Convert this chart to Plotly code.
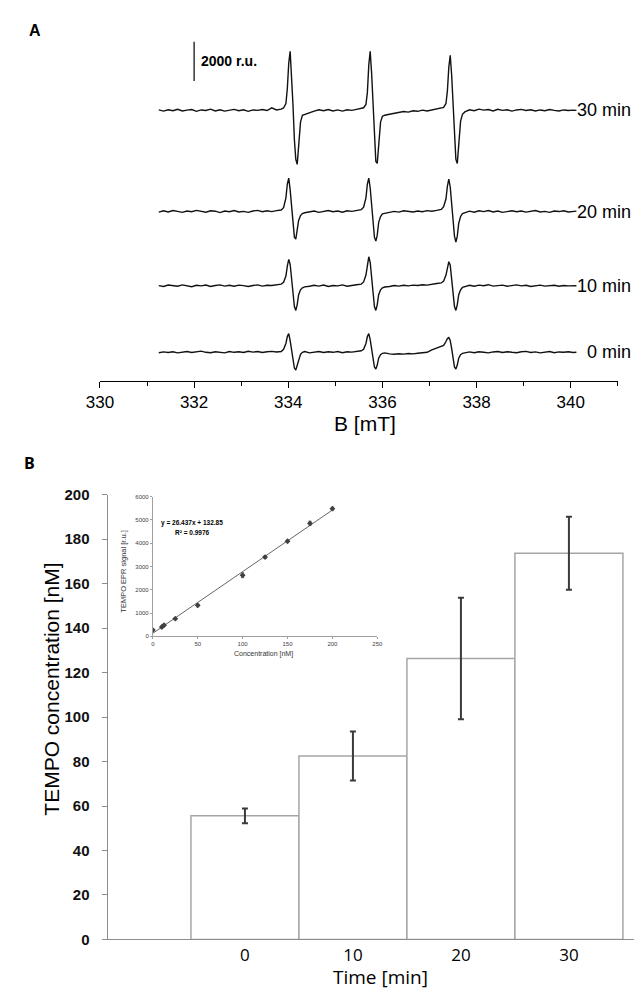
import plotly.graph_objects as go

# ---------------- Panel A: EPR spectra (B in mT, signal in r.u.) ----------------
FIELD_MT = (
    [331.25, 331.35, 331.45, 331.55, 331.65, 331.75, 331.85, 331.95, 332.05, 332.15,
     332.25, 332.35, 332.45, 332.55, 332.65, 332.75, 332.85, 332.95, 333.05, 333.15,
     333.25, 333.35, 333.45, 333.55, 333.65, 333.75, 333.85]
    + [333.90, 333.95, 333.98, 334.01, 334.04, 334.07, 334.10, 334.13, 334.16, 334.19,
       334.22, 334.26, 334.30, 334.35]
    + [334.45, 334.55, 334.65, 334.75, 334.85, 334.95, 335.05, 335.15, 335.25, 335.35,
       335.45, 335.55]
    + [335.60, 335.65, 335.68, 335.71, 335.74, 335.77, 335.80, 335.83, 335.86, 335.89,
       335.92, 335.96, 336.00, 336.05]
    + [336.15, 336.25, 336.35, 336.45, 336.55, 336.65, 336.75, 336.85, 336.95, 337.05,
       337.15, 337.25]
    + [337.30, 337.35, 337.38, 337.41, 337.44, 337.47, 337.50, 337.53, 337.56, 337.59,
       337.62, 337.66, 337.70, 337.75]
    + [337.85, 337.95, 338.05, 338.15, 338.25, 338.35, 338.45, 338.55, 338.65, 338.75,
       338.85, 338.95, 339.05, 339.15, 339.25, 339.35, 339.45, 339.55, 339.65, 339.75,
       339.85, 339.95, 340.05, 340.12]
)

SIGNAL_30MIN = (
    [20, -40, 30, -20, 50, -30, 10, 40, -50, 20, -10, 60, -30, 30, -40, 10, 50, -20, 30, -50,
     20, 0, 40, -10, 130, 20, 60]
    + [120, 350, 1100, 2400, 3000, 1900, 300, -1500, -2500, -2750, -1700, -600, -250, -200]
    + [-100, -40, 30, -20, 40, -30, 20, -40, 30, 0, 50, 80]
    + [130, 300, 900, 2300, 3000, 1900, 300, -1500, -2600, -2700, -1600, -600, -300, -250]
    + [-200, -150, -120, -60, -90, -20, -50, 10, -30, 20, 40, 90]
    + [150, 350, 1000, 2200, 2800, 1800, 300, -1400, -2500, -2700, -1600, -550, -200, -80]
    + [30, -20, 60, 10, 40, -30, 50, 0, 30, -40, 20, 50, -10, 30, -30, 20, -20, 40, 0, -30,
       20, -10, 10, 0]
)

SIGNAL_20MIN = (
    [-30, 40, -20, 50, 10, -40, 30, -10, 60, 0, -30, 40, 20, -50, 30, -10, 50, -20, 10, -40,
     30, 60, -10, 40, 0, 50, 80]
    + [200, 700, 1400, 1700, 1100, 200, -800, -1300, -1400, -1000, -450, -200, -100, -60]
    + [-20, 30, -40, 20, 50, -10, 30, -30, 40, 10, 60, 100]
    + [220, 700, 1400, 1700, 1200, 300, -700, -1300, -1500, -1200, -550, -250, -120, -80]
    + [-40, 10, -30, 40, 0, -20, 30, -10, 50, 20, 60, 110]
    + [250, 650, 1300, 1650, 1250, 400, -600, -1250, -1550, -1250, -600, -250, -100, -50]
    + [20, -30, 40, 0, 50, -20, 30, -40, 10, 40, -10, 30, -30, 20, 50, -20, 10, -40, 30, 0,
       40, -20, 10, 20]
)

SIGNAL_10MIN = (
    [10, -30, 40, 20, -20, 50, 10, -40, 30, 0, 40, -30, 20, 50, -10, 30, -20, 40, 10, -30,
     20, 50, -10, 30, 20, 60, 90]
    + [180, 500, 1000, 1350, 1100, 350, -500, -1050, -1250, -950, -450, -200, -100, -50]
    + [-20, 30, -10, 40, -30, 20, 0, 50, -20, 30, 60, 90]
    + [200, 550, 1100, 1480, 1200, 400, -500, -1050, -1250, -950, -450, -200, -100, -60]
    + [-30, 20, -10, 30, 0, 40, 20, 60, 40, 90, 120, 150]
    + [250, 550, 950, 1230, 1050, 350, -500, -1050, -1250, -950, -450, -200, -80, -30]
    + [30, -20, 40, 10, 60, -10, 30, 40, -20, 20, 50, 0, 30, -30, 20, 40, -10, 10, 30, -20,
       20, 0, -10, 10]
)

SIGNAL_0MIN = (
    [-20, 20, -10, 30, -30, 10, 40, -10, 20, 60, 0, -20, 30, 10, -30, 40, 0, 30, -10, 50,
     10, 40, -10, 30, 50, 20, 40]
    + [150, 450, 800, 950, 600, 50, -500, -800, -900, -650, -300, -100, 0, 40]
    + [-30, 20, 40, -10, 30, 0, 40, -20, 30, 10, 50, 80]
    + [150, 450, 800, 950, 650, 100, -400, -750, -850, -650, -300, -120, -50, -30]
    + [-80, -100, -70, -90, -60, -80, -50, -40, 0, 120, 200, 280]
    + [350, 550, 700, 750, 600, 200, -350, -750, -850, -650, -300, -120, -50, -20]
    + [20, -20, 30, 0, -30, 20, 40, -10, 30, 0, -20, 30, 50, -10, 20, -30, 10, 40, -20, 20,
       0, 30, -10, 0]
)

SPECTRUM_LABELS = ["0 min", "10 min", "20 min", "30 min"]
SPECTRA = [SIGNAL_0MIN, SIGNAL_10MIN, SIGNAL_20MIN, SIGNAL_30MIN]
SCALE_BAR_RU = 2000
B_TICKS = [330, 332, 334, 336, 338, 340]

# ---------------- Panel B: bar chart ----------------
TIME_MIN = [0, 10, 20, 30]
TEMPO_NM = [55.6, 82.5, 126.3, 173.6]
TEMPO_ERR_NM = [3.3, 11.0, 27.3, 16.4]

# ---------------- Inset: calibration ----------------
CAL_CONC_NM = [0, 10, 12.5, 25, 50, 100, 125, 150, 175, 200]
CAL_SIGNAL_RU = [270, 400, 480, 760, 1330, 2620, 3400, 4080, 4850, 5480]
CAL_ERR_RU = [60, 40, 40, 40, 60, 100, 50, 40, 90, 60]
FIT_SLOPE = 26.437
FIT_INTERCEPT = 132.85
FIT_R2 = 0.9976
FIT_X = [0, 200]

# ---------------- layout helpers (pixels -> paper) ----------------
W, H = 641, 993
def fx(px):
    return px / W
def fy(py):
    return 1 - py / H

# vertical stacking of the spectra (layout only)
TRACE_OFFSET = [0, 3380, 7160, 12310]

ARIAL = "Liberation Sans, Arial, sans-serif"
CALIBRI = "Open Sans, Liberation Sans, sans-serif"

fig = go.Figure()

for lab, sig, off in zip(SPECTRUM_LABELS, SPECTRA, TRACE_OFFSET):
    fig.add_trace(go.Scatter(
        x=FIELD_MT, y=[v + off for v in sig], mode="lines",
        line=dict(color="#111111", width=1.4), xaxis="x", yaxis="y",
        showlegend=False, hoverinfo="skip"))

fig.add_trace(go.Bar(
    x=TIME_MIN, y=TEMPO_NM, width=10,
    marker=dict(color="white", line=dict(color="#a6a6a6", width=1.5)),
    error_y=dict(type="data", array=TEMPO_ERR_NM, color="#3a3a3a", thickness=2, width=3),
    xaxis="x2", yaxis="y2", showlegend=False))

fig.add_trace(go.Scatter(
    x=FIT_X, y=[FIT_SLOPE * v + FIT_INTERCEPT for v in FIT_X], mode="lines",
    line=dict(color="#555555", width=0.9), xaxis="x3", yaxis="y3", showlegend=False))
fig.add_trace(go.Scatter(
    x=CAL_CONC_NM, y=CAL_SIGNAL_RU, mode="markers",
    marker=dict(symbol="diamond", size=4.5, color="#404040"),
    error_y=dict(type="data", array=CAL_ERR_RU, color="#404040", thickness=0.8, width=1.5),
    xaxis="x3", yaxis="y3", showlegend=False))

# 2000 r.u. scale bar
fig.add_shape(type="line", xref="x", yref="y", x0=332.0, x1=332.0,
              y0=13800, y1=13800 + SCALE_BAR_RU, line=dict(color="black", width=1.2))

ann = []
ann.append(dict(xref="x", yref="y", x=332.1, y=14800, text=f"{SCALE_BAR_RU} r.u.",
                showarrow=False, xanchor="left", yanchor="middle",
                font=dict(family=ARIAL, size=14, color="black", weight="bold")))
for lab, off in zip(SPECTRUM_LABELS, TRACE_OFFSET):
    ann.append(dict(xref="paper", yref="y", x=fx(639), y=off, text=lab, showarrow=False,
                    xanchor="right", yanchor="middle",
                    font=dict(family=ARIAL, size=18, color="black")))
ann.append(dict(xref="paper", yref="paper", x=fx(362), y=fy(421.7), text="B [mT]",
                showarrow=False, xanchor="center", yanchor="middle",
                font=dict(family=ARIAL, size=21, color="black")))
ann.append(dict(xref="paper", yref="paper", x=fx(13), y=fy(22), text="A",
                showarrow=False, xanchor="left", yanchor="middle",
                font=dict(family=ARIAL, size=16, color="black", weight="bold")))
ann.append(dict(xref="paper", yref="paper", x=fx(8), y=fy(462), text="B",
                showarrow=False, xanchor="left", yanchor="middle",
                font=dict(family=CALIBRI, size=16, color="black", weight="bold")))
ann.append(dict(xref="paper", yref="paper", x=fx(39), y=fy(691.7),
                text="TEMPO concentration [nM]", textangle=-90,
                showarrow=False, xanchor="center", yanchor="middle",
                font=dict(family=ARIAL, size=21, color="black")))
ann.append(dict(xref="paper", yref="paper", x=fx(378), y=fy(985), text="Time [min]",
                showarrow=False, xanchor="center", yanchor="middle",
                font=dict(family=CALIBRI, size=19, color="black")))
# inset texts
ann.append(dict(xref="paper", yref="paper", x=fx(184), y=fy(523.3),
                text=f"y = {FIT_SLOPE}x + {FIT_INTERCEPT}",
                showarrow=False, xanchor="center", yanchor="middle",
                font=dict(family=ARIAL, size=6.5, color="black", weight="bold")))
ann.append(dict(xref="paper", yref="paper", x=fx(184), y=fy(532.3),
                text=f"R² = {FIT_R2}",
                showarrow=False, xanchor="center", yanchor="middle",
                font=dict(family=ARIAL, size=6.5, color="black", weight="bold")))
ann.append(dict(xref="paper", yref="paper", x=fx(258), y=fy(656.7),
                text="Concentration [nM]",
                showarrow=False, xanchor="center", yanchor="middle",
                font=dict(family=ARIAL, size=7, color="#333333")))
ann.append(dict(xref="paper", yref="paper", x=fx(113), y=fy(572),
                text="TEMPO EPR signal [r.u.]", textangle=-90,
                showarrow=False, xanchor="center", yanchor="middle",
                font=dict(family=ARIAL, size=7.5, color="#333333")))

fig.update_layout(
    width=W, height=H, autosize=False,
    margin=dict(l=0, r=0, t=0, b=0),
    paper_bgcolor="white", plot_bgcolor="rgba(0,0,0,0)",
    annotations=ann,
    xaxis=dict(domain=[fx(88.7), fx(623.3)], range=[330, 341], anchor="y",
               showline=True, linecolor="black", linewidth=1,
               ticks="outside", ticklen=6, tickcolor="black", tickwidth=1,
               tickvals=B_TICKS, showgrid=False, zeroline=False,
               minor=dict(dtick=1, tick0=330, ticks="outside", ticklen=4, tickcolor="black"),
               tickfont=dict(family=ARIAL, size=17, color="black")),
    yaxis=dict(domain=[fy(378.3), fy(20)], range=[-1450, 16465], anchor="x", visible=False),
    xaxis2=dict(domain=[fx(96.7), fx(640)], range=[-12.71, 36.03], anchor="y2",
                showline=True, linecolor="#8c8c8c", linewidth=1.3, ticks="",
                tickvals=TIME_MIN, showgrid=False, zeroline=False, ticklabelstandoff=0,
                tickfont=dict(family=CALIBRI, size=17, color="black")),
    yaxis2=dict(domain=[fy(946.7), fy(494)], range=[0, 200], anchor="x2",
                showline=True, linecolor="#8c8c8c", linewidth=1.3,
                ticks="outside", ticklen=5, tickcolor="#8c8c8c", dtick=20,
                showgrid=False, zeroline=False, ticklabelstandoff=9,
                tickfont=dict(family=ARIAL, size=15, color="#111111", weight="bold")),
    xaxis3=dict(domain=[fx(143.3), fx(375)], range=[0, 250], anchor="y3",
                showline=True, linecolor="#a0a0a0", linewidth=0.8, dtick=50,
                ticks="outside", ticklen=2, tickcolor="#a0a0a0",
                showgrid=False, zeroline=False,
                tickfont=dict(family=ARIAL, size=6, color="#404040")),
    yaxis3=dict(domain=[fy(638.3), fy(496)], range=[0, 6000], anchor="x3",
                showline=True, linecolor="#a0a0a0", linewidth=0.8, dtick=1000,
                ticks="outside", ticklen=2, tickcolor="#a0a0a0",
                showgrid=False, zeroline=False,
                tickfont=dict(family=ARIAL, size=6, color="#404040")),
)

# drop the browser's default 8px page margin so the 641x993 figure fills the window
fig.write_html("out.html", config={"displayModeBar": False},
               post_script="document.body.style.margin='0px';")
